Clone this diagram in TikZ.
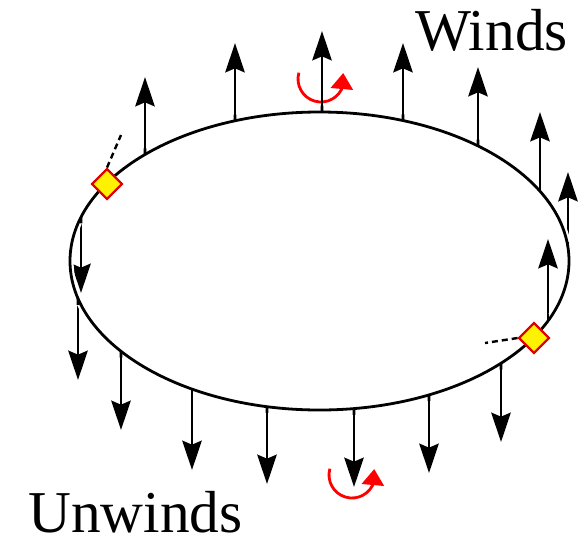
\documentclass[tikz,border=0pt]{standalone}
\usepackage{fontspec}
\setmainfont{Liberation Serif}
\usetikzlibrary{arrows.meta,bending,shapes.geometric,calc}
\begin{document}
\begin{tikzpicture}[x=0.75pt,y=-0.75pt,
  shaft/.style={line width=2pt, -{Stealth[length=22pt,width=14.5pt,inset=3pt]}},
  stub/.style={line width=2pt},
  rim/.style={line width=2.1pt},
  halo/.style={line width=5.4pt, white},
  twist/.style={red, line width=2.1pt, -{Triangle[length=12pt,width=16.5pt,flex]}},
  marker/.style={diamond, aspect=1, draw=red!88!black, fill=yellow, line width=1.6pt, minimum width=23pt, minimum height=23pt, inner sep=0pt},
  lead/.style={line width=1.8pt, dash pattern=on 4.5pt off 3pt},
  bigword/.style={font=\fontsize{44.5}{52}\selectfont, inner sep=0pt}
]
\useasboundingbox (0,0) rectangle (584,543);
% centres
\coordinate (ec) at (319.5,261);
\coordinate (rc1) at (321,79);
\coordinate (rc2) at (352,475);
% red twist arrows
\draw[twist] ($(rc1)+(196:23)$) arc[start angle=196, end angle=-15, radius=23];
\draw[twist] ($(rc2)+(196:23)$) arc[start angle=196, end angle=-15, radius=23];
% up arrows (winds)
\foreach \n/\x/\b/\t in {1/145/154.5/77, 2/235/120.8/43, 3/322/112/31, 4/403/120.6/43, 5/478/145.9/67, 6/540/191.3/112, 7/568/247.7/172, 8/548/320.8/239}{
  \coordinate (ub\n) at (\x,\b);
  \coordinate (ut\n) at (\x,\t);
}
% down arrows (unwinds)
\foreach \n/\x/\b/\t in {1/81/217.3/293, 2/78/298.4/380, 3/121/351.3/430, 4/192/389.1/470, 5/267/406.7/484, 6/354/408.6/487, 7/429/394.9/473, 8/501/363.2/442}{
  \coordinate (db\n) at (\x,\b);
  \coordinate (dt\n) at (\x,\t);
}
\foreach \n in {1,...,8}{
  \draw[shaft] (ub\n) -- (ut\n);
  \draw[shaft] (db\n) -- (dt\n);
}
% ellipse with white halo
\draw[halo] (ec) ellipse [x radius=249.5, y radius=149];
\draw[rim] (ec) ellipse [x radius=249.5, y radius=149];
% restore shaft roots
\foreach \n in {1,...,8}{
  \draw[stub] (ub\n) -- ($(ub\n)!0.08!(ut\n)$);
  \draw[stub] (db\n) -- ($(db\n)!0.08!(dt\n)$);
}
% markers
\coordinate (le) at (121,135);
\coordinate (re) at (485,343);
\node[marker] (dl) at (107,184) {};
\node[marker] (dr) at (534,338) {};
\draw[lead] (dl.north) -- (le);
\draw[lead] (dr.west) -- (re);
\node[marker] at (dl) {};
\node[marker] at (dr) {};
% labels
\node[bigword, anchor=base east] (winds) at (568,50) {Winds};
\node[bigword, anchor=base west] (unwinds) at (28,532) {Unwinds};
\end{tikzpicture}
\end{document}
